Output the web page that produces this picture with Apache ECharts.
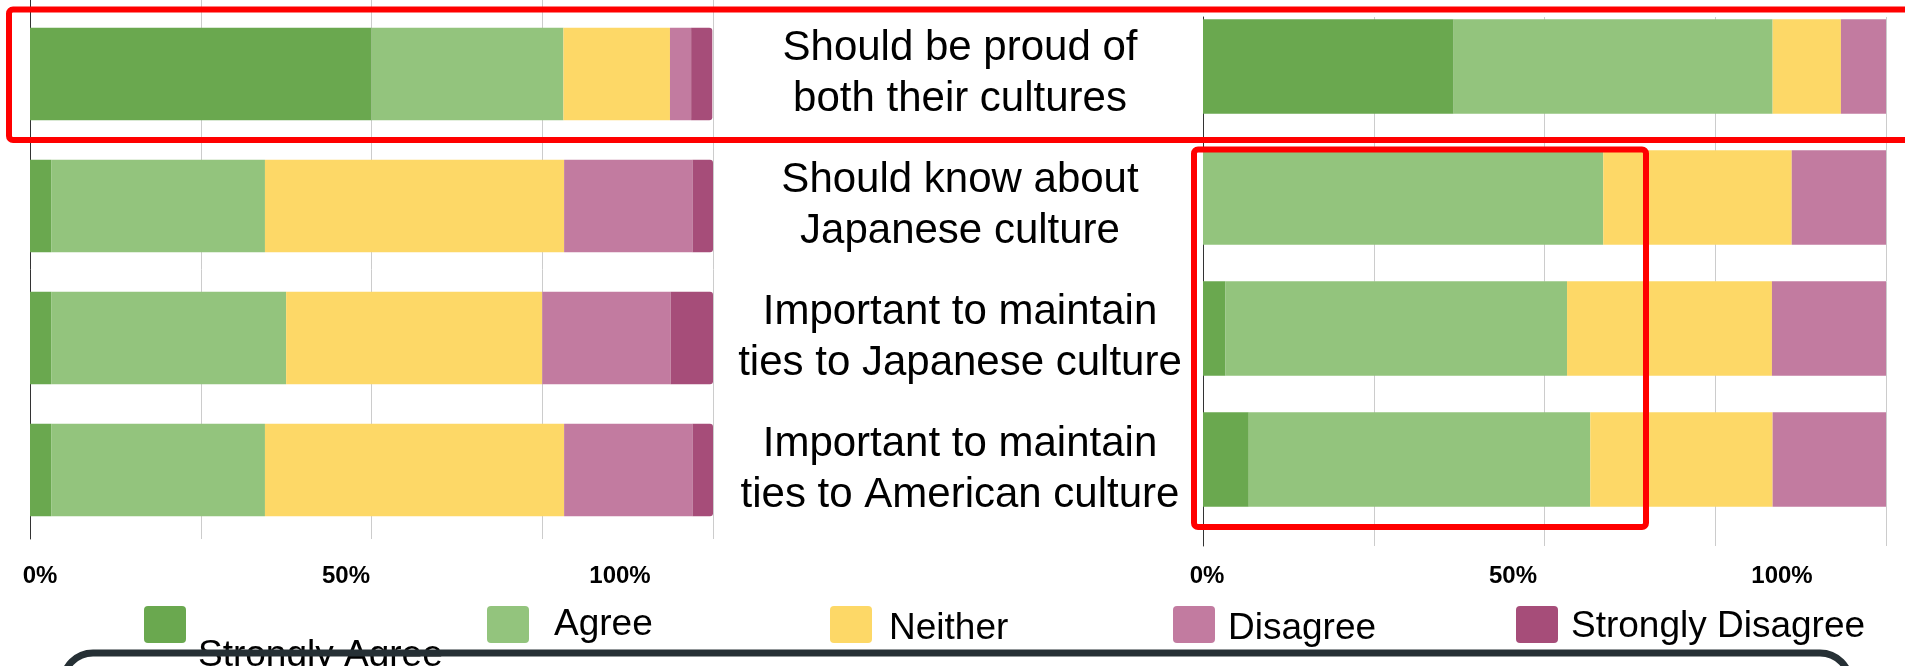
<!DOCTYPE html>
<html>
<head>
<meta charset="utf-8">
<title>Cultural identity survey</title>
<script src="https://cdn.jsdelivr.net/npm/echarts@6/dist/echarts.min.js"></script>
<style>
  html, body { margin: 0; padding: 0; background: #ffffff; }
  #chart { width: 1905px; height: 666px; }
</style>
</head>
<body>
<div id="chart"></div>
<script>
// Statements (rows, top to bottom)
const categories = [
  'Should be proud of\nboth their cultures',
  'Should know about\nJapanese culture',
  'Important to maintain\nties to Japanese culture',
  'Important to maintain\nties to American culture'
];

const responseNames = ['Strongly Agree', 'Agree', 'Neither', 'Disagree', 'Strongly Disagree'];

// Left panel, percent of respondents
const leftStronglyAgree    = [50.0,  3.1,  3.1,  3.1];
const leftAgree            = [28.1, 31.3, 34.4, 31.3];
const leftNeither          = [15.6, 43.8, 37.5, 43.8];
const leftDisagree         = [ 3.1, 18.8, 18.8, 18.8];
const leftStronglyDisagree = [ 3.1,  3.1,  6.3,  3.1];

// Right panel, percent of respondents
const rightStronglyAgree    = [36.7,  0.0,  3.3,  6.7];
const rightAgree            = [46.7, 58.6, 50.0, 50.0];
const rightNeither          = [10.0, 27.6, 30.0, 26.7];
const rightDisagree         = [ 6.6, 13.8, 16.7, 16.6];
const rightStronglyDisagree = [ 0.0,  0.0,  0.0,  0.0];

const tickLabels = ['0%', '50%', '100%'];

// ---- styling ----
const palette = ['#6aa84f', '#93c47d', '#fdd867', '#c27ba0', '#a64d79'];
const FONT = '"Liberation Sans", Arial, Helvetica, sans-serif';

const leftData = [leftStronglyAgree, leftAgree, leftNeither, leftDisagree, leftStronglyDisagree];
const rightData = [rightStronglyAgree, rightAgree, rightNeither, rightDisagree, rightStronglyDisagree];

const chart = echarts.init(document.getElementById('chart'), null, { renderer: 'canvas' });

function frameXAxis(gridIndex) {
  return {
    gridIndex, type: 'value', min: 0, max: 100, interval: 25,
    axisLine: { show: false }, axisTick: { show: false }, axisLabel: { show: false },
    splitLine: { show: true, lineStyle: { color: '#cccccc', width: 1 } }
  };
}
function frameYAxis(gridIndex) {
  return {
    gridIndex, type: 'category', data: categories, inverse: true,
    axisLine: { show: true, lineStyle: { color: '#333333', width: 1 } },
    axisTick: { show: false }, axisLabel: { show: false }, splitLine: { show: false }
  };
}
function barXAxis(gridIndex) {
  return { gridIndex, type: 'value', min: 0, max: 100, show: false };
}

function panelSeries(data, axisIndex, stack, gap) {
  return data.map((values, i) => ({
    name: responseNames[i],
    type: 'bar',
    stack,
    xAxisIndex: axisIndex,
    yAxisIndex: axisIndex,
    barCategoryGap: gap,
    data: values,
    itemStyle: {
      color: palette[i],
      borderRadius: (stack === 'left' && i === data.length - 1) ? [0, 3, 3, 0] : 0
    },
    emphasis: { disabled: true },
    silent: true
  }));
}

// tick labels under each panel
const tickCentersLeft = [40, 346, 620];
const tickCentersRight = [1207, 1513, 1782];
const tickGraphics = [];
[tickCentersLeft, tickCentersRight].forEach(centers => {
  centers.forEach((cx, i) => {
    tickGraphics.push({
      type: 'text', x: cx, y: 576, z: 50,
      style: {
        text: tickLabels[i], fill: '#000000', font: 'bold 24px ' + FONT,
        textAlign: 'center', textVerticalAlign: 'middle'
      }
    });
  });
});

// legend swatches and names
const legendGraphics = [];
const textOffsets = [[54, 656], [67, 625], [59, 629], [55, 629], [55, 627]];
responseNames.forEach((name, i) => {
  const sx = 144 + i * 343;
  legendGraphics.push({
    type: 'rect', z: 50,
    shape: { x: sx, y: 606, width: 42, height: 37, r: 4 },
    style: { fill: palette[i] }
  });
  legendGraphics.push({
    type: 'text', z: 50,
    x: sx + textOffsets[i][0], y: textOffsets[i][1],
    style: {
      text: name, fill: '#000000', font: '37px ' + FONT,
      textAlign: 'left', textVerticalAlign: 'middle'
    }
  });
});

const option = {
  backgroundColor: '#ffffff',
  animation: false,
  grid: [
    { left: 30, top: 0, width: 683, height: 539 },
    { left: 30, top: 8, width: 683, height: 528 },
    { left: 1203, top: 17, width: 683, height: 529 },
    { left: 1203, top: 1, width: 683, height: 524 }
  ],
  xAxis: [frameXAxis(0), barXAxis(1), frameXAxis(2), barXAxis(3)],
  yAxis: [
    frameYAxis(0),
    {
      gridIndex: 1, type: 'category', data: categories, inverse: true, position: 'right',
      axisLine: { show: false }, axisTick: { show: false }, splitLine: { show: false },
      axisLabel: {
        show: true, align: 'center', margin: 247, color: '#000000',
        fontSize: 42, lineHeight: 51, fontFamily: FONT
      }
    },
    frameYAxis(2),
    { gridIndex: 3, type: 'category', data: categories, inverse: true, show: false }
  ],
  series: [
    ...panelSeries(leftData, 1, 'left', '30%'),
    ...panelSeries(rightData, 3, 'right', '28%')
  ],
  graphic: [
    ...tickGraphics,
    ...legendGraphics,
    // outlined callout box along the bottom
    {
      type: 'rect', z: 60,
      shape: { x: 63, y: 653, width: 1787, height: 80, r: 30 },
      style: { fill: 'none', stroke: '#263035', lineWidth: 7 }
    },
    // red highlight frames
    {
      type: 'rect', z: 100,
      shape: { x: 9, y: 9.5, width: 1930, height: 130.5, r: 4 },
      style: { fill: 'none', stroke: '#ff0000', lineWidth: 6 }
    },
    {
      type: 'rect', z: 100,
      shape: { x: 1194, y: 149.5, width: 452, height: 377.5, r: 4 },
      style: { fill: 'none', stroke: '#ff0000', lineWidth: 6 }
    }
  ]
};

chart.setOption(option);
</script>
</body>
</html>
